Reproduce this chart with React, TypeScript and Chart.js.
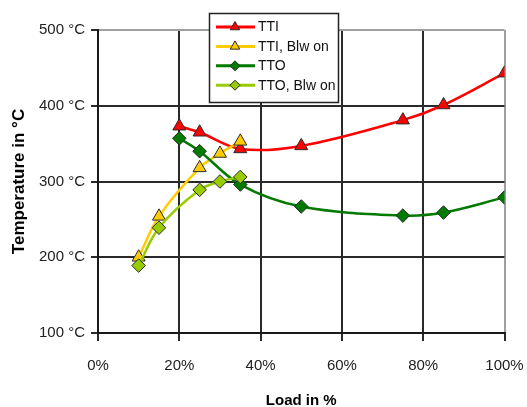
import React, { useEffect, useRef } from "react";
import { Chart, registerables } from "chart.js";
import { drawPoint } from "chart.js/helpers";

Chart.register(...registerables);

// ---- data ----
const loadMain = [20, 25, 35, 50, 75, 85, 100];
const loadBlw = [10, 15, 25, 30, 35];
const ttiValues = [373, 365, 343, 347, 381, 401, 443];
const ttiBlwValues = [200, 254, 318, 337, 353];
const ttoValues = [357, 340, 296, 267, 255, 259, 279];
const ttoBlwValues = [189, 239, 289, 300, 306];
const seriesLabels = ["TTI", "TTI, Blw on", "TTO", "TTO, Blw on"];
const xTickStep = 20;
const yTickStep = 100;
const xMin = 0;
const xMax = 100;
const yMin = 100;
const yMax = 500;

const FONT = "'Liberation Sans', Arial, sans-serif";

const toPoints = (xs: number[], ys: number[]) => xs.map((x, i) => ({ x, y: ys[i] }));

const legendPlugin = {
  id: "boxLegend",
  afterDraw(chart: any) {
    const ctx = chart.ctx as CanvasRenderingContext2D;
    const x0 = 209.5, y0 = 13.5, w = 129, h = 89;
    ctx.save();
    ctx.fillStyle = "#ffffff";
    ctx.fillRect(x0, y0, w, h);
    ctx.strokeStyle = "#222222";
    ctx.lineWidth = 1.5;
    ctx.strokeRect(x0, y0, w, h);
    chart.data.datasets.forEach((ds: any, i: number) => {
      const y = y0 + 13.5 + i * 19.4;
      ctx.strokeStyle = ds.borderColor;
      ctx.lineWidth = 3;
      ctx.beginPath();
      ctx.moveTo(216, y);
      ctx.lineTo(255, y);
      ctx.stroke();
      ctx.fillStyle = ds.pointBackgroundColor;
      ctx.strokeStyle = ds.pointBorderColor;
      ctx.lineWidth = 1;
      drawPoint(ctx, { pointStyle: ds.pointStyle, radius: ds.pointStyle === "triangle" ? 5.5 : 5, rotation: 0, borderWidth: 1 }, 235, y);
      ctx.fillStyle = "#111111";
      ctx.font = `14px ${FONT}`;
      ctx.textBaseline = "middle";
      ctx.textAlign = "left";
      ctx.fillText(ds.label, 258, y + 0.5);
    });
    ctx.restore();
  },
};

export default function App() {
  const ref = useRef<HTMLCanvasElement | null>(null);

  useEffect(() => {
    if (!ref.current) return;
    const mk = (label: string, data: any[], color: string, style: string, r: number, order: number) => ({
      label,
      data,
      borderColor: color,
      backgroundColor: color,
      pointBackgroundColor: color,
      pointBorderColor: "#2a2a2a",
      pointBorderWidth: 1,
      pointStyle: style,
      pointRadius: r,
      pointHoverRadius: r,
      borderWidth: 2.5,
      tension: 0.35,
      fill: false,
      order,
    });
    const chart = new Chart(ref.current, {
      type: "line",
      data: {
        datasets: [
          mk(seriesLabels[0], toPoints(loadMain, ttiValues), "#ff0000", "triangle", 7.5, 4),
          mk(seriesLabels[1], toPoints(loadBlw, ttiBlwValues), "#ffcc00", "triangle", 7.5, 3),
          mk(seriesLabels[2], toPoints(loadMain, ttoValues), "#007a00", "rectRot", 6.8, 2),
          mk(seriesLabels[3], toPoints(loadBlw, ttoBlwValues), "#99cc00", "rectRot", 6.8, 1),
        ] as any,
      },
      options: {
        animation: false,
        responsive: false,
        maintainAspectRatio: false,
        layout: { padding: { top: 30, right: 22.5, left: 0, bottom: 0 } },
        plugins: { legend: { display: false }, tooltip: { enabled: false } },
        scales: {
          x: {
            type: "linear",
            min: xMin,
            max: xMax,
            ticks: {
              stepSize: xTickStep,
              callback: (v: any) => `${v}%`,
              color: "#222222",
              font: { family: FONT, size: 15 },
              padding: 16,
              maxRotation: 0,
            },
            grid: {
              color: (c: any) => (c.tick && c.tick.value === xMax ? "#a0a0a0" : "#2a2a2a"),
              lineWidth: 2,
              tickLength: 8,
              tickColor: "#2a2a2a",
            },
            border: { color: "#1a1a1a", width: 2 },
            title: {
              display: true,
              text: "Load in %",
              color: "#000000",
              font: { family: FONT, size: 15, weight: "bold" },
              padding: { top: 0, bottom: -3 },
            },
            afterFit: (s: any) => {
              s.height = 74;
              s.paddingLeft = 0;
              s.paddingRight = 0;
            },
          },
          y: {
            type: "linear",
            min: yMin,
            max: yMax,
            ticks: {
              stepSize: yTickStep,
              callback: (v: any) => `${v} °C`,
              color: "#222222",
              font: { family: FONT, size: 15 },
              padding: 6,
            },
            grid: {
              color: (c: any) => (c.tick && c.tick.value === yMax ? "#a0a0a0" : "#2a2a2a"),
              lineWidth: 2,
              tickLength: 7,
              tickColor: "#2a2a2a",
            },
            border: { color: "#1a1a1a", width: 2 },
            title: {
              display: true,
              text: "Temperature in °C",
              color: "#000000",
              font: { family: FONT, size: 17, weight: "bold" },
              padding: { top: 9, bottom: 0 },
            },
            afterFit: (s: any) => {
              s.width = 98;
              s.paddingTop = 0;
              s.paddingBottom = 0;
            },
          },
        },
      } as any,
      plugins: [legendPlugin],
    });
    return () => chart.destroy();
  }, []);

  return (
    <div style={{ position: "fixed", left: 0, top: 0, width: 527, height: 407, background: "#fff" }}>
      <canvas ref={ref} width={527} height={407} style={{ display: "block" }} />
    </div>
  );
}
